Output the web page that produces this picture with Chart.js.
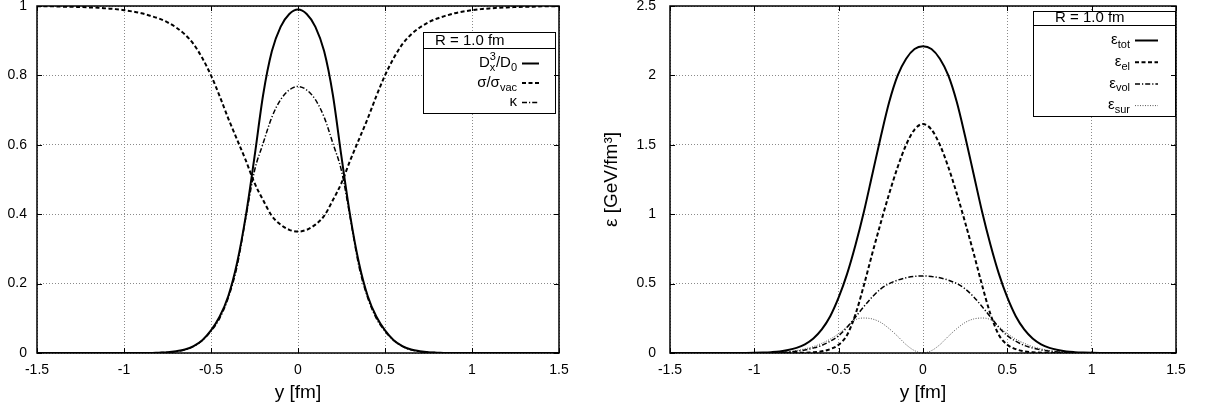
<!DOCTYPE html>
<html>
<head>
<meta charset="utf-8">
<script src="https://cdn.jsdelivr.net/npm/chart.js@4.4.0/dist/chart.umd.min.js"></script>
<style>
  html, body { margin: 0; padding: 0; background: #fff; }
  #wrap { position: relative; width: 1212px; height: 408px; }
  canvas { position: absolute; top: 0; }
</style>
</head>
<body>
<div id="wrap">
  <canvas id="left" width="600" height="408" style="left:0"></canvas>
  <canvas id="right" width="612" height="408" style="left:600px"></canvas>
</div>
<script>
// positions along y [fm]
const yPos = [-1.5, -1.45, -1.4, -1.35, -1.3, -1.25, -1.2, -1.15, -1.1, -1.05,
  -1, -0.95, -0.9, -0.85, -0.8, -0.75, -0.7, -0.65, -0.6, -0.55,
  -0.5, -0.45, -0.4, -0.35, -0.3, -0.25, -0.2, -0.15, -0.1, -0.05,
  0, 0.05, 0.1, 0.15, 0.2, 0.25, 0.3, 0.35, 0.4, 0.45,
  0.5, 0.55, 0.6, 0.65, 0.7, 0.75, 0.8, 0.85, 0.9, 0.95,
  1, 1.05, 1.1, 1.15, 1.2, 1.25, 1.3, 1.35, 1.4, 1.45, 1.5];

// left panel
const dRatio = [0, 0, 0, 0, 0, 0, 0, 0, 0, 0, 0, 0, 0, 0,
  0.001, 0.002, 0.005, 0.01, 0.02, 0.037, 0.065, 0.105, 0.165, 0.26, 0.395, 0.565, 0.745, 0.87, 0.94, 0.977,
  0.99,
  0.977, 0.94, 0.87, 0.745, 0.565, 0.395, 0.26, 0.165, 0.105, 0.065, 0.037, 0.02, 0.01, 0.005, 0.002, 0.001,
  0, 0, 0, 0, 0, 0, 0, 0, 0, 0, 0, 0, 0, 0];
const sigmaRatio = [0.999, 0.999, 0.999, 0.998, 0.998, 0.997, 0.996, 0.995, 0.993, 0.991,
  0.988, 0.984, 0.979, 0.972, 0.964, 0.953, 0.938, 0.918, 0.89, 0.85,
  0.8, 0.74, 0.675, 0.615, 0.555, 0.49, 0.44, 0.395, 0.37, 0.355,
  0.35,
  0.355, 0.37, 0.395, 0.44, 0.49, 0.555, 0.615, 0.675, 0.74, 0.8,
  0.85, 0.89, 0.918, 0.938, 0.953, 0.964, 0.972, 0.979, 0.984, 0.988,
  0.991, 0.993, 0.995, 0.996, 0.997, 0.998, 0.998, 0.999, 0.999, 0.999];
const kappa = [0, 0, 0, 0, 0, 0, 0, 0, 0, 0, 0, 0, 0, 0,
  0.001, 0.002, 0.004, 0.009, 0.019, 0.036, 0.063, 0.1, 0.16, 0.25, 0.39, 0.525, 0.605, 0.68, 0.73, 0.758,
  0.768,
  0.758, 0.73, 0.68, 0.605, 0.525, 0.39, 0.25, 0.16, 0.1, 0.063, 0.036, 0.019, 0.009, 0.004, 0.002, 0.001,
  0, 0, 0, 0, 0, 0, 0, 0, 0, 0, 0, 0, 0, 0];

// right panel [GeV/fm^3]
const epsTot = [0, 0, 0, 0, 0, 0, 0, 0, 0, 0,
  0.001, 0.003, 0.006, 0.011, 0.021, 0.037, 0.063, 0.105, 0.17, 0.265,
  0.4, 0.57, 0.78, 1.02, 1.29, 1.56, 1.81, 2.0, 2.12, 2.19,
  2.21,
  2.19, 2.12, 2.0, 1.81, 1.56, 1.29, 1.02, 0.78, 0.57, 0.4,
  0.265, 0.17, 0.105, 0.063, 0.037, 0.021, 0.011, 0.006, 0.003, 0.001,
  0, 0, 0, 0, 0, 0, 0, 0, 0, 0];
const epsEl = [0, 0, 0, 0, 0, 0, 0, 0, 0, 0, 0, 0, 0, 0, 0,
  0.001, 0.002, 0.005, 0.012, 0.028, 0.06, 0.13, 0.28, 0.49, 0.72, 0.94, 1.15, 1.34, 1.5, 1.61,
  1.65,
  1.61, 1.5, 1.34, 1.15, 0.94, 0.72, 0.49, 0.28, 0.13, 0.06, 0.028, 0.012, 0.005, 0.002, 0.001,
  0, 0, 0, 0, 0, 0, 0, 0, 0, 0, 0, 0, 0, 0, 0];
const epsVol = [0, 0, 0, 0, 0, 0, 0, 0, 0, 0, 0,
  0.001, 0.002, 0.004, 0.007, 0.013, 0.022, 0.036, 0.055, 0.085, 0.125,
  0.185, 0.26, 0.335, 0.405, 0.462, 0.5, 0.525, 0.542, 0.552,
  0.555,
  0.552, 0.542, 0.525, 0.5, 0.462, 0.405, 0.335, 0.26, 0.185,
  0.125, 0.085, 0.055, 0.036, 0.022, 0.013, 0.007, 0.004, 0.002, 0.001,
  0, 0, 0, 0, 0, 0, 0, 0, 0, 0, 0];
const epsSur = [0, 0, 0, 0, 0, 0, 0, 0, 0, 0, 0,
  0.001, 0.003, 0.006, 0.01, 0.018, 0.03, 0.046, 0.07, 0.1, 0.14,
  0.19, 0.24, 0.252, 0.245, 0.22, 0.175, 0.12, 0.06, 0.017,
  0,
  0.017, 0.06, 0.12, 0.175, 0.22, 0.245, 0.252, 0.24, 0.19,
  0.14, 0.1, 0.07, 0.046, 0.03, 0.018, 0.01, 0.006, 0.003, 0.001,
  0, 0, 0, 0, 0, 0, 0, 0, 0, 0, 0];

// ticks
const xTicks = [-1.5, -1, -0.5, 0, 0.5, 1, 1.5];
const xTickLabels = ['-1.5', '-1', '-0.5', '0', '0.5', '1', '1.5'];
const leftYTicks = [0, 0.2, 0.4, 0.6, 0.8, 1];
const leftYTickLabels = ['0', '0.2', '0.4', '0.6', '0.8', '1'];
const rightYTicks = [0, 0.5, 1, 1.5, 2, 2.5];
const rightYTickLabels = ['0', '0.5', '1', '1.5', '2', '2.5'];

// key labels (parts: plain text, subscript, superscript)
const keyTitle = 'R = 1.0 fm';
const leftKeyLabels = [
  [{ t: 'D' }, { sub: 'x', sup: '3' }, { t: '/D' }, { sub: '0' }],
  [{ t: 'σ/σ' }, { sub: 'vac' }],
  [{ t: 'κ' }]
];
const rightKeyLabels = [
  [{ t: 'ε' }, { sub: 'tot' }],
  [{ t: 'ε' }, { sub: 'el' }],
  [{ t: 'ε' }, { sub: 'vol' }],
  [{ t: 'ε' }, { sub: 'sur' }]
];

const FONT = "'Liberation Sans', Arial, Helvetica, sans-serif";
Chart.defaults.font.family = FONT;
Chart.defaults.color = '#000';

const pts = arr => yPos.map((x, i) => ({ x: x, y: arr[i] }));

const solid = { borderColor: '#000', borderWidth: 2, borderDash: [] };
const dashed = { borderColor: '#000', borderWidth: 2, borderDash: [4, 2.5] };
const dashDot = { borderColor: '#000', borderWidth: 1.5, borderDash: [5, 2, 1.2, 2] };
const dotted = { borderColor: '#555', borderWidth: 1, borderDash: [1, 1.5] };

function partWidth(ctx, p) {
  if (p.t) { ctx.font = '15px ' + FONT; return ctx.measureText(p.t).width; }
  ctx.font = '11px ' + FONT;
  return Math.max(p.sub ? ctx.measureText(p.sub).width : 0, p.sup ? ctx.measureText(p.sup).width : 0);
}

function drawRich(ctx, parts, xRight, y) {
  let total = 0;
  parts.forEach(p => { total += partWidth(ctx, p); });
  let x = xRight - total;
  ctx.textAlign = 'left';
  ctx.textBaseline = 'middle';
  parts.forEach(p => {
    const w = partWidth(ctx, p);
    if (p.t) {
      ctx.font = '15px ' + FONT;
      ctx.fillText(p.t, x, y);
    } else {
      ctx.font = '11px ' + FONT;
      if (p.sub) ctx.fillText(p.sub, x, y + 5);
      if (p.sup) ctx.fillText(p.sup, x, y - 6);
    }
    x += w;
  });
}

const keyPlugin = {
  id: 'key',
  afterDatasetsDraw(chart, args, o) {
    const ctx = chart.ctx;
    ctx.save();
    ctx.setLineDash([]);
    ctx.fillStyle = '#fff';
    ctx.fillRect(o.left, o.top, o.right - o.left, o.bottom - o.top);
    ctx.strokeStyle = '#000';
    ctx.lineWidth = 1;
    ctx.strokeRect(o.left + 0.5, o.top + 0.5, o.right - o.left, o.bottom - o.top);
    ctx.beginPath();
    ctx.moveTo(o.left, o.divider + 0.5);
    ctx.lineTo(o.right, o.divider + 0.5);
    ctx.stroke();
    ctx.fillStyle = '#000';
    ctx.font = '15px ' + FONT;
    ctx.textAlign = 'left';
    ctx.textBaseline = 'middle';
    ctx.fillText(keyTitle, o.titleX, o.titleY);
    chart.data.datasets.forEach((ds, i) => {
      const y = o.firstRow + i * o.rowStep;
      drawRich(ctx, o.labels[i], o.textRight, y);
      ctx.strokeStyle = ds.borderColor;
      ctx.lineWidth = ds.borderWidth;
      ctx.setLineDash(ds.borderDash);
      ctx.beginPath();
      ctx.moveTo(o.sampleFrom, y + 0.5);
      ctx.lineTo(o.sampleTo, y + 0.5);
      ctx.stroke();
    });
    ctx.restore();
  }
};

const framePlugin = {
  id: 'frame',
  afterDraw(chart, args, o) {
    const { ctx, chartArea: a, scales } = chart;
    ctx.save();
    ctx.setLineDash([]);
    ctx.strokeStyle = '#000';
    ctx.lineWidth = 1;
    ctx.beginPath();
    xTicks.forEach(v => {
      const px = Math.round(scales.x.getPixelForValue(v)) + 0.5;
      ctx.moveTo(px, a.bottom); ctx.lineTo(px, a.bottom - 5);
      ctx.moveTo(px, a.top); ctx.lineTo(px, a.top + 5);
    });
    o.yTicks.forEach(v => {
      const py = Math.round(scales.y.getPixelForValue(v)) + 0.5;
      ctx.moveTo(a.left, py); ctx.lineTo(a.left + 5, py);
      ctx.moveTo(a.right, py); ctx.lineTo(a.right - 5, py);
    });
    ctx.stroke();
    ctx.lineWidth = 1.5;
    ctx.strokeRect(a.left, a.top, a.right - a.left, a.bottom - a.top);
    ctx.restore();
  }
};

function makeScales(yTicks, yTickLabels, yMax, yWidth, yPad, yTitle) {
  return {
    x: {
      type: 'linear', min: -1.5, max: 1.5,
      afterBuildTicks: s => { s.ticks = xTicks.map(v => ({ value: v })); },
      afterFit: s => { s.height = 55; s.paddingLeft = 0; s.paddingRight = 0; },
      ticks: { callback: (v, i) => xTickLabels[i], font: { size: 14 }, padding: 9, maxRotation: 0, autoSkip: false },
      grid: { color: '#8a8a8a', lineWidth: 1, drawTicks: false },
      border: { display: false, dash: [1, 2] },
      title: { display: true, text: 'y [fm]', font: { size: 19 }, padding: { top: 0, bottom: 4 } }
    },
    y: {
      type: 'linear', min: 0, max: yMax,
      afterBuildTicks: s => { s.ticks = yTicks.map(v => ({ value: v })); },
      afterFit: s => { s.width = yWidth; s.paddingTop = 0; s.paddingBottom = 0; },
      ticks: { callback: (v, i) => yTickLabels[i], font: { size: 14 }, padding: yPad, autoSkip: false },
      grid: { color: '#8a8a8a', lineWidth: 1, drawTicks: false },
      border: { display: false, dash: [1, 2] },
      title: yTitle
        ? { display: true, text: yTitle, font: { size: 19 }, padding: { top: 0, bottom: 0 } }
        : { display: false }
    }
  };
}

const common = {
  responsive: false,
  animation: false,
  devicePixelRatio: 1,
  elements: { point: { radius: 0 }, line: { cubicInterpolationMode: 'monotone' } },
  events: []
};

new Chart(document.getElementById('left'), {
  type: 'line',
  data: {
    datasets: [
      Object.assign({ label: 'D_x^3/D_0', data: pts(dRatio) }, solid),
      Object.assign({ label: 'σ/σ_vac', data: pts(sigmaRatio) }, dashed),
      Object.assign({ label: 'κ', data: pts(kappa) }, dashDot)
    ]
  },
  options: Object.assign({}, common, {
    layout: { padding: { top: 6, right: 41, bottom: 0, left: 0 } },
    scales: makeScales(leftYTicks, leftYTickLabels, 1, 37, 10, null),
    plugins: {
      legend: { display: false },
      tooltip: { enabled: false },
      key: {
        left: 423, right: 555, top: 32, bottom: 113, divider: 48,
        titleX: 435, titleY: 41, firstRow: 63, rowStep: 19.5,
        textRight: 517, sampleFrom: 522, sampleTo: 539, labels: leftKeyLabels
      },
      frame: { yTicks: leftYTicks }
    }
  }),
  plugins: [keyPlugin, framePlugin]
});

new Chart(document.getElementById('right'), {
  type: 'line',
  data: {
    datasets: [
      Object.assign({ label: 'ε_tot', data: pts(epsTot) }, solid),
      Object.assign({ label: 'ε_el', data: pts(epsEl) }, dashed),
      Object.assign({ label: 'ε_vol', data: pts(epsVol) }, dashDot),
      Object.assign({ label: 'ε_sur', data: pts(epsSur) }, dotted)
    ]
  },
  options: Object.assign({}, common, {
    layout: { padding: { top: 6, right: 36, bottom: 0, left: 0 } },
    scales: makeScales(rightYTicks, rightYTickLabels, 2.5, 70, 14, 'ε [GeV/fm³]'),
    plugins: {
      legend: { display: false },
      tooltip: { enabled: false },
      key: {
        left: 433, right: 575, top: 11, bottom: 116, divider: 25,
        titleX: 455, titleY: 18, firstRow: 40, rowStep: 21.7,
        textRight: 530, sampleFrom: 535, sampleTo: 558, labels: rightKeyLabels
      },
      frame: { yTicks: rightYTicks }
    }
  }),
  plugins: [keyPlugin, framePlugin]
});
</script>
</body>
</html>
